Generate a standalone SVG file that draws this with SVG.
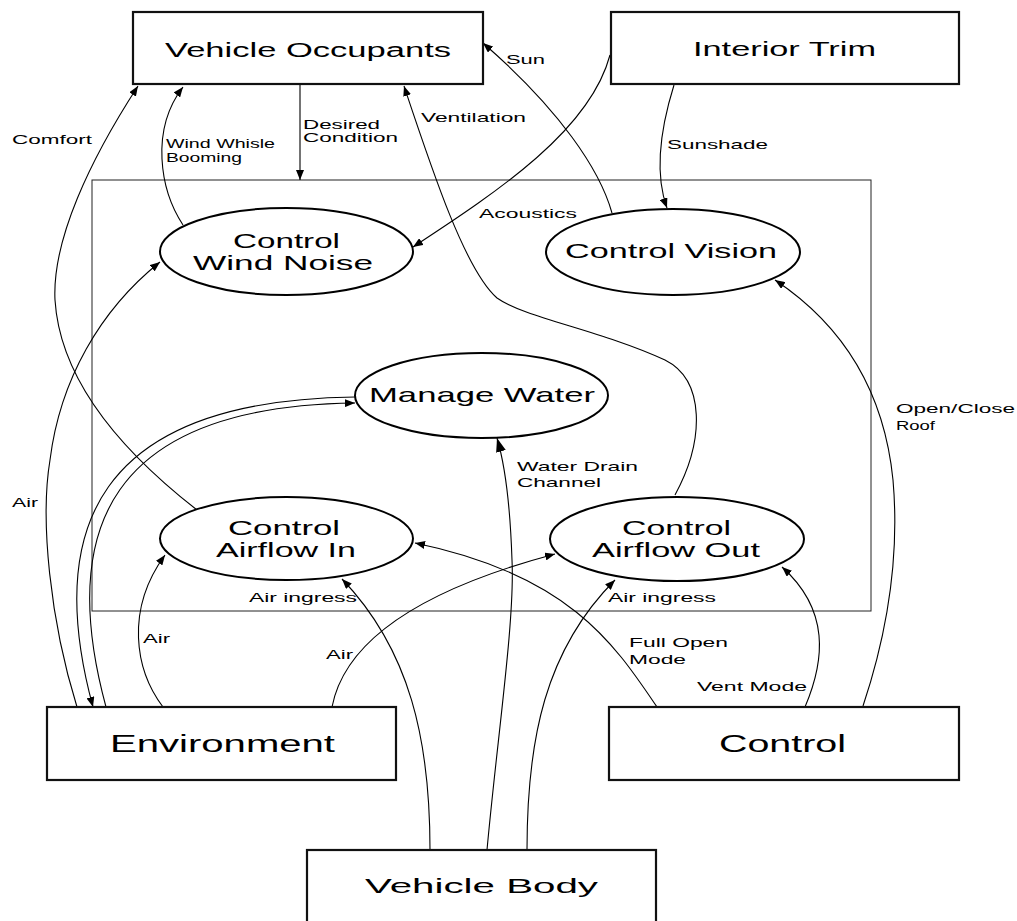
<svg xmlns="http://www.w3.org/2000/svg" width="1017" height="921" viewBox="0 0 1017 921">
<style>
.box{fill:#fff;stroke:#111;stroke-width:2.2}
.ell{fill:#fff;stroke:#000;stroke-width:2}
.frame{fill:none;stroke:#222;stroke-width:1}
.c{fill:none;stroke:#000;stroke-width:1.1;marker-end:url(#ah)}
.cb{fill:none;stroke:#000;stroke-width:1.1;marker-end:url(#ahb)}
text{font-family:"Liberation Sans",Arial,sans-serif;fill:#000}
.big{font-size:23px}
.top{font-size:20px}
.mid{font-size:21px}
.sm{font-size:13px}
</style>
<defs>
<marker id="ah" viewBox="0 0 10 8" refX="10" refY="4" markerWidth="10" markerHeight="8" markerUnits="userSpaceOnUse" orient="auto"><path d="M0,0 L10,4 L0,8 z" fill="#000"/></marker>
<marker id="ahb" viewBox="0 0 14 10" refX="14" refY="5" markerWidth="14" markerHeight="10" markerUnits="userSpaceOnUse" orient="auto"><path d="M0,0 L14,5 L0,10 z" fill="#000"/></marker>
</defs>
<rect width="1017" height="921" fill="#fff"/>
<rect id="system-boundary" class="frame" x="92" y="180" width="779" height="431"/>

<g id="connectors">
<path class="c" d="M197,510 C120,450 60,380 55,300 C52,240 90,160 138,86"/>
<path class="c" d="M183,225 C160,190 150,130 183,87"/>
<path class="c" d="M300,84 L300,180"/>
<path class="c" d="M675,495 C705,440 705,380 665,360 C600,330 525,318 497,298 C465,270 432,170 404,86"/>
<path class="c" d="M612,213 C600,170 560,110 483,43"/>
<path class="c" d="M610,55 C590,130 500,190 413,247"/>
<path class="c" d="M674,85 C660,130 655,175 667,208"/>
<path class="c" d="M863,706 C885,640 900,560 893,480 C885,400 850,330 775,280"/>
<path class="c" d="M77,707 C50,620 40,520 50,460 C60,380 100,310 160,262"/>
<path class="c" d="M355,397 C95,400 45,530 93,707"/>
<path class="c" d="M106,707 C58,530 108,406 355,403"/>
<path class="cb" d="M487,850 C497,740 515,620 512,560 C510,500 505,465 497,438"/>
<path class="c" d="M430,850 C430,740 410,650 342,579"/>
<path class="c" d="M527,850 C527,740 545,650 615,580"/>
<path class="c" d="M657,707 C615,645 570,575 415,543"/>
<path class="c" d="M805,707 C825,660 830,610 782,567"/>
<path class="c" d="M163,707 C135,670 125,610 165,555"/>
<path class="c" d="M332,707 C345,640 420,590 555,554"/>
</g>

<g id="labels">
<text class="sm" x="12" y="144" textLength="80" lengthAdjust="spacingAndGlyphs">Comfort</text>
<text class="sm" x="166" y="148" textLength="109" lengthAdjust="spacingAndGlyphs">Wind Whisle</text>
<text class="sm" x="166" y="162" textLength="76" lengthAdjust="spacingAndGlyphs">Booming</text>
<text class="sm" x="303" y="129" textLength="77" lengthAdjust="spacingAndGlyphs">Desired</text>
<text class="sm" x="303" y="142" textLength="95" lengthAdjust="spacingAndGlyphs">Condition</text>
<text class="sm" x="421" y="122" textLength="105" lengthAdjust="spacingAndGlyphs">Ventilation</text>
<text class="sm" x="506" y="64" textLength="39" lengthAdjust="spacingAndGlyphs">Sun</text>
<text class="sm" x="479" y="218" textLength="98" lengthAdjust="spacingAndGlyphs">Acoustics</text>
<text class="sm" x="667" y="149" textLength="101" lengthAdjust="spacingAndGlyphs">Sunshade</text>
<text class="sm" x="12" y="507" textLength="26" lengthAdjust="spacingAndGlyphs">Air</text>
<text class="sm" x="249" y="602" textLength="108" lengthAdjust="spacingAndGlyphs">Air ingress</text>
<text class="sm" x="517" y="471" textLength="121" lengthAdjust="spacingAndGlyphs">Water Drain</text>
<text class="sm" x="517" y="487" textLength="84" lengthAdjust="spacingAndGlyphs">Channel</text>
<text class="sm" x="608" y="602" textLength="108" lengthAdjust="spacingAndGlyphs">Air ingress</text>
<text class="sm" x="896" y="413" textLength="119" lengthAdjust="spacingAndGlyphs">Open/Close</text>
<text class="sm" x="896" y="430" textLength="39" lengthAdjust="spacingAndGlyphs">Roof</text>
<text class="sm" x="143" y="643" textLength="27" lengthAdjust="spacingAndGlyphs">Air</text>
<text class="sm" x="326" y="659" textLength="27" lengthAdjust="spacingAndGlyphs">Air</text>
<text class="sm" x="629" y="647" textLength="99" lengthAdjust="spacingAndGlyphs">Full Open</text>
<text class="sm" x="629" y="664" textLength="57" lengthAdjust="spacingAndGlyphs">Mode</text>
<text class="sm" x="697" y="691" textLength="110" lengthAdjust="spacingAndGlyphs">Vent Mode</text>
</g>

<g id="vehicle-occupants"><rect class="box" x="133" y="12" width="350" height="72"/><text class="top" x="165" y="57" textLength="286" lengthAdjust="spacingAndGlyphs">Vehicle Occupants</text></g>
<g id="interior-trim"><rect class="box" x="611" y="12" width="348" height="72"/><text class="top" x="693" y="56" textLength="183" lengthAdjust="spacingAndGlyphs">Interior Trim</text></g>
<g id="environment"><rect class="box" x="47" y="707" width="349" height="73"/><text class="big" x="110" y="752" textLength="225" lengthAdjust="spacingAndGlyphs">Environment</text></g>
<g id="control"><rect class="box" x="609" y="707" width="350" height="73"/><text class="big" x="719" y="752" textLength="127" lengthAdjust="spacingAndGlyphs">Control</text></g>
<g id="vehicle-body"><rect class="box" x="307" y="850" width="349" height="76"/><text class="mid" x="365" y="893" textLength="233" lengthAdjust="spacingAndGlyphs">Vehicle Body</text></g>

<g id="control-wind-noise"><ellipse class="ell" cx="286.5" cy="251.5" rx="126.5" ry="43.5"/><text class="mid" x="233" y="248" textLength="107" lengthAdjust="spacingAndGlyphs">Control</text><text class="mid" x="193" y="270" textLength="180" lengthAdjust="spacingAndGlyphs">Wind Noise</text></g>
<g id="control-vision"><ellipse class="ell" cx="673" cy="252" rx="127" ry="43"/><text class="mid" x="565" y="258" textLength="212" lengthAdjust="spacingAndGlyphs">Control Vision</text></g>
<g id="manage-water"><ellipse class="ell" cx="481.5" cy="395.5" rx="126.5" ry="42.5"/><text class="mid" x="369" y="402" textLength="226" lengthAdjust="spacingAndGlyphs">Manage Water</text></g>
<g id="control-airflow-in"><ellipse class="ell" cx="286.5" cy="538.5" rx="126.5" ry="41.5"/><text class="mid" x="228" y="535" textLength="112" lengthAdjust="spacingAndGlyphs">Control</text><text class="mid" x="216" y="557" textLength="140" lengthAdjust="spacingAndGlyphs">Airflow In</text></g>
<g id="control-airflow-out"><ellipse class="ell" cx="677" cy="539" rx="127" ry="42"/><text class="mid" x="622" y="535" textLength="109" lengthAdjust="spacingAndGlyphs">Control</text><text class="mid" x="592" y="557" textLength="168" lengthAdjust="spacingAndGlyphs">Airflow Out</text></g>
</svg>
